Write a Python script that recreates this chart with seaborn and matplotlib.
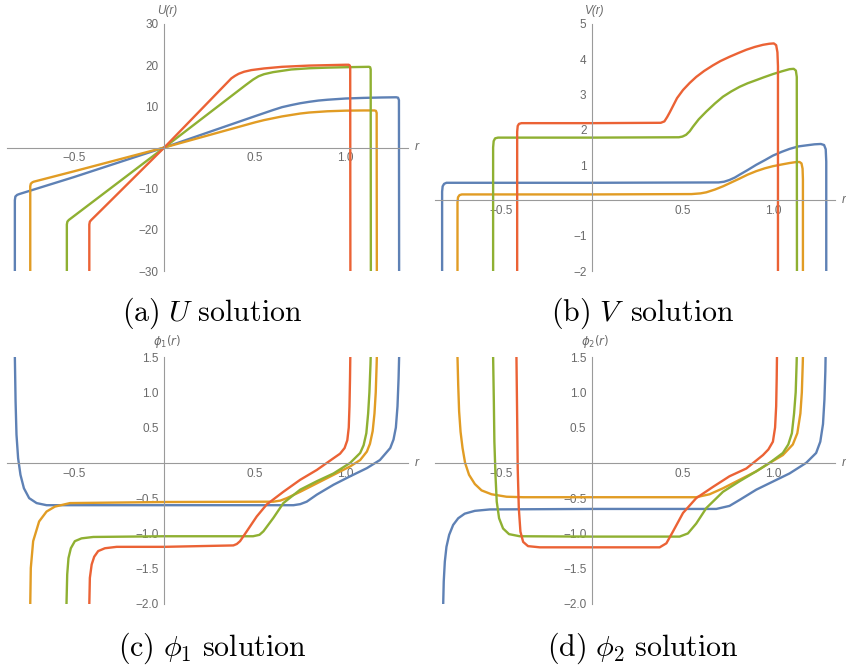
import matplotlib
matplotlib.use("Agg")
import matplotlib.pyplot as plt
from matplotlib.ticker import FixedLocator, MultipleLocator, FuncFormatter
import seaborn as sns

# Mathematica default colours
blue = "#5E81B5"
orange = "#E19C24"
green = "#8FB032"
red = "#EB6235"

# (a) U(r), values
u_r_blue = [-0.825, -0.825, -0.822, -0.812, -0.80, -0.5, 0.0, 0.5, 0.6, 0.65, 0.7, 0.75, 0.8, 0.85, 0.9, 1.0, 1.1, 1.2, 1.28, 1.29, 1.295, 1.296]
u_blue = [-31, -12.8, -11.9, -11.5, -11.3, -7.2, 0.0, 7.6, 9.1, 9.8, 10.3, 10.75, 11.1, 11.4, 11.6, 11.9, 12.05, 12.15, 12.2, 12.1, 11.5, -31]
u_r_orange = [-0.740, -0.740, -0.737, -0.728, -0.72, -0.5, 0.0, 0.5, 0.55, 0.6, 0.65, 0.7, 0.75, 0.8, 0.9, 1.0, 1.1, 1.16, 1.168, 1.172, 1.173]
u_orange = [-31, -9.4, -8.8, -8.45, -8.3, -5.8, 0.0, 6.1, 6.65, 7.1, 7.55, 7.9, 8.25, 8.5, 8.8, 8.95, 9.0, 9.0, 8.9, 8.4, -31]
u_r_green = [-0.538, -0.538, -0.535, -0.527, -0.5, 0.0, 0.45, 0.49, 0.52, 0.55, 0.6, 0.7, 0.8, 0.9, 1.0, 1.13, 1.136, 1.139, 1.14]
u_green = [-31, -18.7, -18.0, -17.6, -16.7, 0.0, 15.2, 16.5, 17.3, 17.8, 18.3, 18.95, 19.25, 19.4, 19.5, 19.6, 19.5, 19.0, -31]
u_r_red = [-0.414, -0.414, -0.411, -0.403, -0.35, 0.0, 0.37, 0.39, 0.41, 0.44, 0.48, 0.55, 0.65, 0.8, 1.0, 1.018, 1.024, 1.026, 1.027]
u_red = [-31, -18.7, -18.0, -17.6, -15.3, 0.0, 16.8, 17.4, 17.9, 18.4, 18.8, 19.2, 19.6, 19.9, 20.1, 20.1, 19.9, 19.4, -31]

# (b) V(r)
v_r_blue = [-0.829, -0.829, -0.826, -0.818, -0.805, 0.0, 0.70, 0.73, 0.76, 0.79, 0.816, 0.86, 0.908, 0.955, 1.0, 1.05, 1.092, 1.14, 1.184, 1.23, 1.265, 1.283, 1.292, 1.295, 1.295]
v_blue = [-2.1, 0.25, 0.40, 0.47, 0.50, 0.50, 0.51, 0.53, 0.58, 0.65, 0.73, 0.86, 1.01, 1.14, 1.27, 1.38, 1.46, 1.53, 1.56, 1.59, 1.60, 1.57, 1.45, 1.1, -2.1]
v_r_orange = [-0.744, -0.744, -0.741, -0.733, -0.72, 0.0, 0.55, 0.60, 0.632, 0.68, 0.724, 0.77, 0.816, 0.86, 0.908, 0.955, 1.0, 1.05, 1.092, 1.125, 1.147, 1.158, 1.164, 1.166, 1.166]
v_orange = [-2.1, -0.05, 0.09, 0.15, 0.17, 0.17, 0.18, 0.20, 0.23, 0.31, 0.40, 0.51, 0.62, 0.73, 0.83, 0.91, 0.97, 1.02, 1.06, 1.085, 1.09, 1.05, 0.9, 0.6, -2.1]
v_r_green = [-0.547, -0.547, -0.544, -0.536, -0.52, 0.0, 0.48, 0.50, 0.52, 0.54, 0.558, 0.59, 0.632, 0.68, 0.724, 0.77, 0.816, 0.86, 0.908, 0.95, 1.0, 1.05, 1.092, 1.115, 1.127, 1.132, 1.133]
v_green = [-2.1, 1.5, 1.68, 1.76, 1.78, 1.78, 1.79, 1.81, 1.86, 1.96, 2.09, 2.30, 2.52, 2.75, 2.94, 3.09, 3.22, 3.32, 3.41, 3.49, 3.58, 3.66, 3.72, 3.73, 3.68, 3.5, -2.1]
v_r_red = [-0.414, -0.414, -0.411, -0.404, -0.39, 0.0, 0.38, 0.40, 0.415, 0.43, 0.448, 0.47, 0.503, 0.54, 0.576, 0.62, 0.669, 0.71, 0.76, 0.81, 0.853, 0.90, 0.945, 0.98, 1.005, 1.018, 1.025, 1.028, 1.028]
v_red = [-2.1, 1.95, 2.11, 2.17, 2.19, 2.19, 2.20, 2.24, 2.36, 2.50, 2.68, 2.90, 3.13, 3.33, 3.50, 3.67, 3.83, 3.95, 4.07, 4.18, 4.27, 4.35, 4.41, 4.44, 4.45, 4.40, 4.2, 3.8, -2.1]

# (c) phi_1(r)
p1_r_blue = [-0.826, -0.825, -0.821, -0.816, -0.807, -0.794, -0.775, -0.746, -0.705, -0.650, 0.0, 0.713, 0.75, 0.786, 0.842, 0.934, 1.026, 1.118, 1.19, 1.247, 1.265, 1.278, 1.287, 1.293, 1.297]
p1_blue = [1.6, 1.5, 0.87, 0.40, 0.066, -0.17, -0.36, -0.50, -0.57, -0.60, -0.60, -0.60, -0.585, -0.55, -0.45, -0.31, -0.19, -0.075, 0.04, 0.21, 0.33, 0.5, 0.8, 1.2, 1.6]
p1_r_orange = [-0.741, -0.740, -0.737, -0.724, -0.691, -0.650, -0.604, -0.521, 0.0, 0.602, 0.64, 0.676, 0.75, 0.842, 0.934, 1.026, 1.081, 1.118, 1.135, 1.15, 1.16, 1.167, 1.172, 1.174]
p1_orange = [-2.1, -2.0, -1.49, -1.11, -0.83, -0.69, -0.62, -0.57, -0.555, -0.55, -0.535, -0.50, -0.41, -0.29, -0.17, -0.05, 0.04, 0.16, 0.27, 0.45, 0.7, 1.0, 1.4, 1.6]
p1_r_green = [-0.541, -0.540, -0.536, -0.529, -0.516, -0.494, -0.457, -0.392, 0.0, 0.49, 0.525, 0.547, 0.602, 0.657, 0.75, 0.842, 0.934, 1.026, 1.081, 1.10, 1.115, 1.125, 1.132, 1.138, 1.14]
p1_green = [-2.1, -2.0, -1.58, -1.35, -1.21, -1.11, -1.07, -1.05, -1.04, -1.04, -1.02, -0.97, -0.78, -0.57, -0.38, -0.26, -0.15, 0.0, 0.14, 0.25, 0.42, 0.7, 1.0, 1.4, 1.6]
p1_r_red = [-0.415, -0.414, -0.411, -0.401, -0.387, -0.365, -0.328, -0.263, 0.0, 0.381, 0.40, 0.418, 0.455, 0.51, 0.565, 0.657, 0.75, 0.842, 0.934, 0.97, 0.995, 1.01, 1.018, 1.022, 1.025, 1.027]
p1_red = [-2.1, -2.0, -1.63, -1.44, -1.33, -1.25, -1.21, -1.19, -1.19, -1.17, -1.15, -1.11, -0.97, -0.76, -0.59, -0.41, -0.24, -0.10, 0.066, 0.13, 0.21, 0.32, 0.5, 0.8, 1.2, 1.6]

# (d) phi_2(r)
p2_r_blue = [-0.824, -0.823, -0.820, -0.814, -0.805, -0.790, -0.768, -0.740, -0.704, -0.648, -0.565, 0.0, 0.687, 0.76, 0.816, 0.908, 1.0, 1.092, 1.184, 1.239, 1.262, 1.277, 1.285, 1.29, 1.292]
p2_blue = [-2.1, -2.0, -1.68, -1.40, -1.19, -1.02, -0.88, -0.785, -0.72, -0.68, -0.66, -0.653, -0.653, -0.61, -0.525, -0.38, -0.265, -0.15, 0.0, 0.14, 0.30, 0.55, 0.9, 1.3, 1.6]
p2_r_orange = [-0.745, -0.744, -0.740, -0.735, -0.727, -0.716, -0.702, -0.680, -0.648, -0.611, -0.556, -0.473, -0.381, 0.0, 0.576, 0.65, 0.724, 0.816, 0.908, 0.982, 1.055, 1.11, 1.135, 1.152, 1.16, 1.165, 1.167]
p2_orange = [1.6, 1.5, 1.1, 0.73, 0.44, 0.21, 0.0, -0.17, -0.30, -0.39, -0.445, -0.48, -0.487, -0.487, -0.487, -0.445, -0.36, -0.24, -0.12, 0.0, 0.11, 0.26, 0.42, 0.7, 1.0, 1.4, 1.6]
p2_r_green = [-0.548, -0.547, -0.543, -0.540, -0.534, -0.527, -0.514, -0.492, -0.459, -0.400, 0.0, 0.484, 0.53, 0.576, 0.632, 0.724, 0.816, 0.908, 0.982, 1.055, 1.085, 1.105, 1.117, 1.126, 1.131, 1.133]
p2_green = [1.6, 1.5, 0.87, 0.30, -0.17, -0.55, -0.785, -0.93, -1.01, -1.04, -1.045, -1.045, -1.0, -0.86, -0.64, -0.41, -0.26, -0.12, 0.0, 0.14, 0.26, 0.42, 0.7, 1.0, 1.4, 1.6]
p2_r_red = [-0.419, -0.418, -0.414, -0.411, -0.405, -0.396, -0.381, -0.354, -0.289, 0.0, 0.374, 0.411, 0.448, 0.503, 0.576, 0.669, 0.76, 0.853, 0.945, 0.975, 1.0, 1.012, 1.018, 1.021, 1.023]
p2_red = [1.6, 1.5, 0.63, -0.08, -0.64, -0.975, -1.12, -1.18, -1.197, -1.197, -1.197, -1.14, -0.97, -0.71, -0.50, -0.34, -0.19, -0.08, 0.11, 0.19, 0.30, 0.5, 0.8, 1.2, 1.6]

x_range = (-0.87, 1.345)
x_major = [-0.5, 0.5, 1.0]

axis_color = "#9a9a9a"
text_color = "#6a6a6a"

sns.set_style("white")
plt.rcParams["font.family"] = ["Liberation Sans", "DejaVu Sans"]

W, H = 846, 671
fig = plt.figure(figsize=(W / 100, H / 100), dpi=100)


def make_axes(left, top, right, bottom):
    # pixel box -> figure fraction
    return fig.add_axes([left / W, 1 - bottom / H, (right - left) / W, (bottom - top) / H])


def minus_formatter(fmt):
    return FuncFormatter(lambda v, pos: (fmt % v).replace("-", "\u2212"))


def style_axes(ax, ylim, y_major, y_minor, y_fmt, ylabel):
    ax.set_xlim(*x_range)
    ax.set_ylim(*ylim)
    for side in ["top", "right"]:
        ax.spines[side].set_visible(False)
    for side in ["left", "bottom"]:
        ax.spines[side].set_position(("data", 0))
        ax.spines[side].set_color(axis_color)
        ax.spines[side].set_linewidth(0.8)
    ax.xaxis.set_major_locator(FixedLocator(x_major))
    ax.xaxis.set_minor_locator(MultipleLocator(0.1))
    ax.xaxis.set_major_formatter(minus_formatter("%.1f"))
    ax.yaxis.set_major_locator(FixedLocator(y_major))
    ax.yaxis.set_minor_locator(MultipleLocator(y_minor))
    ax.yaxis.set_major_formatter(minus_formatter(y_fmt))
    ax.tick_params(which="both", direction="in", color=axis_color, width=0.8,
                   labelcolor=text_color, labelsize=8.5)
    ax.tick_params(which="major", length=3.2)
    ax.tick_params(which="minor", length=1.7)
    ax.tick_params(axis="x", which="major", pad=3.5)
    ax.tick_params(axis="y", which="major", pad=4)
    ax.set_xlabel("")
    ax.set_ylabel("")
    ax.annotate(ylabel, xy=(0, ylim[1]), xycoords="data", xytext=(2, 5),
                textcoords="offset points", ha="center", va="bottom",
                color=text_color, fontsize=8.5, style="italic",
                math_fontfamily="dejavusans", annotation_clip=False)
    ax.annotate("r", xy=(x_range[1], 0), xycoords="data", xytext=(5, 0),
                textcoords="offset points", ha="left", va="center",
                color=text_color, fontsize=9, style="italic",
                annotation_clip=False)


def draw(ax, series):
    for r, y, c in series:
        sns.lineplot(x=r, y=y, sort=False, estimator=None, color=c,
                     linewidth=1.7, ax=ax)


ax_a = make_axes(6.7, 24, 408, 271)
draw(ax_a, [(u_r_blue, u_blue, blue), (u_r_orange, u_orange, orange),
            (u_r_green, u_green, green), (u_r_red, u_red, red)])
style_axes(ax_a, (-30, 30), [-30, -20, -10, 10, 20, 30], 2, "%d", "U(r)")

ax_b = make_axes(434.7, 24, 835.3, 271)
draw(ax_b, [(v_r_blue, v_blue, blue), (v_r_orange, v_orange, orange),
            (v_r_green, v_green, green), (v_r_red, v_red, red)])
style_axes(ax_b, (-2, 5), [-2, -1, 1, 2, 3, 4, 5], 0.2, "%d", "V(r)")

phi_major = [-2.0, -1.5, -1.0, -0.5, 0.5, 1.0, 1.5]

ax_c = make_axes(6.7, 357, 408, 604)
draw(ax_c, [(p1_r_blue, p1_blue, blue), (p1_r_orange, p1_orange, orange),
            (p1_r_green, p1_green, green), (p1_r_red, p1_red, red)])
style_axes(ax_c, (-2.0, 1.5), phi_major, 0.1, "%.1f", r"$\phi_1(r)$")

ax_d = make_axes(434.7, 357, 835.3, 604)
draw(ax_d, [(p2_r_blue, p2_blue, blue), (p2_r_orange, p2_orange, orange),
            (p2_r_green, p2_green, green), (p2_r_red, p2_red, red)])
style_axes(ax_d, (-2.0, 1.5), phi_major, 0.1, "%.1f", r"$\phi_2(r)$")

captions = [
    (212, 313, r"$\mathrm{(a)}\ U\ \mathrm{solution}$"),
    (643, 313, r"$\mathrm{(b)}\ V\ \,\mathrm{solution}$"),
    (212, 648, r"$\mathrm{(c)}\ \phi_1\ \mathrm{solution}$"),
    (643, 648, r"$\mathrm{(d)}\ \phi_2\ \mathrm{solution}$"),
]
for x, y, s in captions:
    fig.text(x / W, 1 - y / H, s, ha="center", va="center", fontsize=21.5,
             color="black", math_fontfamily="cm")

fig.savefig("out.png", dpi=100)
